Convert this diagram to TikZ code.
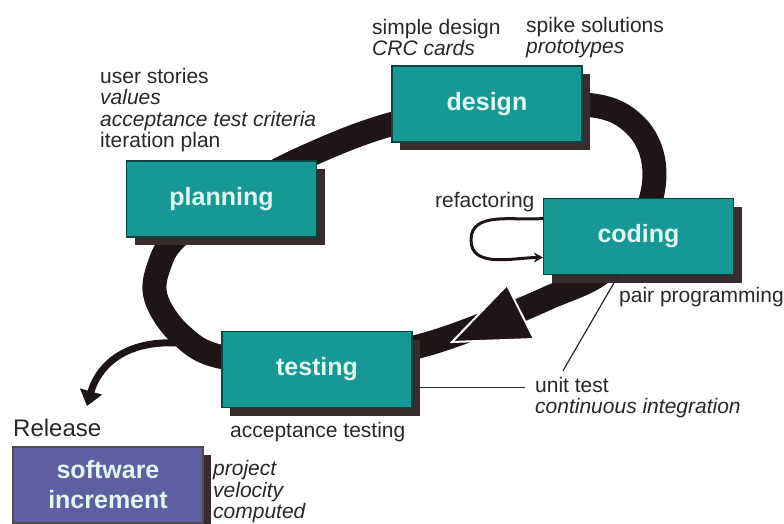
\documentclass[tikz,border=0pt]{standalone}
\usepackage{fontspec}
\setmainfont{Liberation Sans}
\usetikzlibrary{shadows,arrows.meta}
\definecolor{phaseteal}{RGB}{24,152,148}
\definecolor{phaseedge}{RGB}{12,70,68}
\definecolor{releaseblue}{RGB}{94,94,160}
\definecolor{boxtext}{RGB}{222,248,244}
\definecolor{shadowgray}{RGB}{55,45,45}
\definecolor{bandblack}{RGB}{30,22,22}
\definecolor{notegray}{RGB}{40,40,40}

\begin{document}
\begin{tikzpicture}[
    x=1pt, y=-1pt,
    phase/.style={rectangle, draw=phaseedge, fill=phaseteal, line width=1.2pt, minimum width=190pt, minimum height=76pt, text=boxtext, align=center, font=\fontsize{25}{30}\selectfont\bfseries, drop shadow={shadow xshift=8pt, shadow yshift=-8pt, fill=shadowgray, opacity=1}},
    increment/.style={phase, fill=releaseblue, draw=black!70},
    note/.style={anchor=west, inner sep=0pt, align=left, text=notegray, font=\fontsize{21}{21.5}\selectfont},
    loopband/.style={line width=24pt, draw=bandblack},
    link/.style={line width=1.2pt, draw=notegray},
    arrow/.style={-{Stealth[length=9pt, width=10pt]}, line width=3pt, draw=bandblack}
]
    \useasboundingbox (0,0) rectangle (784,523);

    % the big cycle behind the boxes
    \draw[loopband] plot[smooth cycle, tension=0.6] coordinates {
        (240,192) (305,157) (392,124) (490,107) (590,105) (635,125) (654,165)
        (645,215) (605,270) (548,298) (490,322) (412,348) (317,362) (222,357)
        (180,334) (156,298) (159,266) (178,236)};
    \filldraw[fill=bandblack, draw=white, line width=2pt] (507,285) -- (534,339) -- (452,342) -- cycle;
    \coordinate (fork) at (178,343);
    \coordinate (releasetip) at (87,406);
    \draw[bandblack, line width=7pt, -{Triangle[length=15pt, width=22pt]}] (fork) .. controls (120,340) and (97,370) .. (releasetip);

    \node[phase] (planning) at (221.5,199) {planning};
    \node[phase] (design) at (487,104) {design};
    \node[phase] (coding) at (638.5,236.5) {coding};
    \node[phase] (testing) at (317,369.5) {testing};
    \node[increment] (software) at (108,485) {software\\increment};

    \node[note] (stories) at (100,110) {user stories\\\textit{values}\\\textit{acceptance test criteria}\\iteration plan};
    \node[note] (simple) at (372,37.5) {simple design\\\textit{CRC cards}};
    \node[note] (spike) at (526,37.5) {spike solutions\\\textit{prototypes}};
    \node[note] (refactor) at (435,202) {refactoring};
    \node[note] (pair) at (619,297) {pair programming};
    \node[note] (unit) at (535,397.5) {unit test\\\textit{continuous integration}};
    \node[note] (acceptance) at (230,432) {acceptance testing};
    \node[note, font=\fontsize{24}{26}\selectfont] (release) at (13,428) {Release};
    \node[note] (velocity) at (213,492) {\textit{project}\\\textit{velocity}\\\textit{computed}};

    \draw[arrow] ([yshift=18pt]coding.west) to[out=185, in=90] (471,240) to[out=-90, in=180] ([yshift=-21pt]coding.west);
    \draw[link] ([xshift=-20pt]coding.south) -- ([xshift=28pt, yshift=6pt]unit.north west);
    \draw[link] ([yshift=-18pt]testing.east) -- ([xshift=-10pt, yshift=10pt]unit.west);
\end{tikzpicture}
\end{document}
